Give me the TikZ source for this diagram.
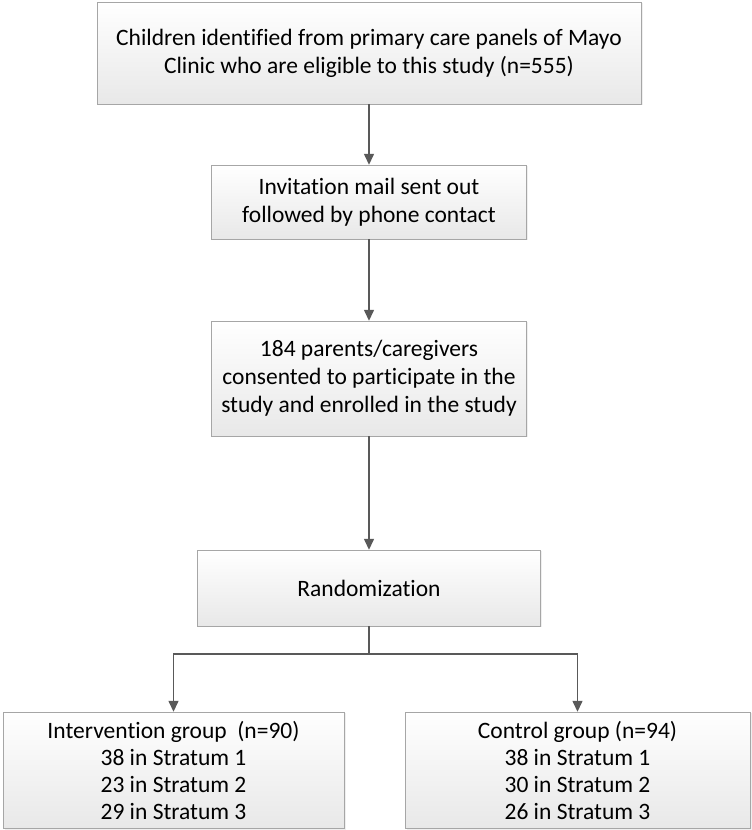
\documentclass[tikz,border=0pt]{standalone}
\usepackage{fontspec}
\setmainfont{Carlito}[Ligatures=NoCommon]
\usetikzlibrary{arrows.meta, shadows}

\definecolor{boxline}{HTML}{A6A6A6}
\definecolor{boxbot}{HTML}{E8E8E8}
\definecolor{arrowgray}{HTML}{595959}

\tikzset{
    stepbox/.style={draw=boxline, top color=white, bottom color=boxbot,
        align=center, inner sep=0pt,
        font=\fontsize{23.5}{28}\selectfont,
        drop shadow={shadow xshift=1.5pt, shadow yshift=-1.5pt, fill=black!12}},
    groupbox/.style={stepbox, font=\fontsize{23.5}{27}\selectfont},
    flow/.style={draw=arrowgray, line width=1.4pt,
        -{Triangle[length=11pt, width=10pt]}},
}

\begin{document}
\begin{tikzpicture}[x=1pt,y=1pt]
    \path[use as bounding box] (0,0) rectangle (752,830);

    \node[stepbox, minimum width=544pt, minimum height=102pt] (eligible) at (369,777)
        {Children identified from primary care panels of Mayo\\Clinic who are eligible to this study (n=555)};
    \node[stepbox, minimum width=315pt, minimum height=74pt] (invite) at (369,628)
        {Invitation mail sent out\\followed by phone contact};
    \node[stepbox, minimum width=315pt, minimum height=115pt] (consent) at (369,451.5)
        {184 parents/caregivers\\consented to participate in the\\study and enrolled in the study};
    \node[stepbox, minimum width=343pt, minimum height=76pt] (random) at (369,242)
        {Randomization};
    \node[groupbox, minimum width=341pt, minimum height=116pt] (interv) at (173.5,60)
        {Intervention group~~(n=90)\\38 in Stratum 1\\23 in Stratum 2\\29 in Stratum 3};
    \node[groupbox, minimum width=345pt, minimum height=116pt] (control) at (577.5,60)
        {Control group (n=94)\\38 in Stratum 1\\30 in Stratum 2\\26 in Stratum 3};

    \coordinate (split) at (369,176);

    \draw[flow] (eligible) -- (invite);
    \draw[flow] (invite) -- (consent);
    \draw[flow] (consent) -- (random);
    \draw[draw=arrowgray, line width=1.4pt] (random) -- (split);
    \draw[flow] (split) -| (interv);
    \draw[flow] (split) -| (control);
\end{tikzpicture}
\end{document}
